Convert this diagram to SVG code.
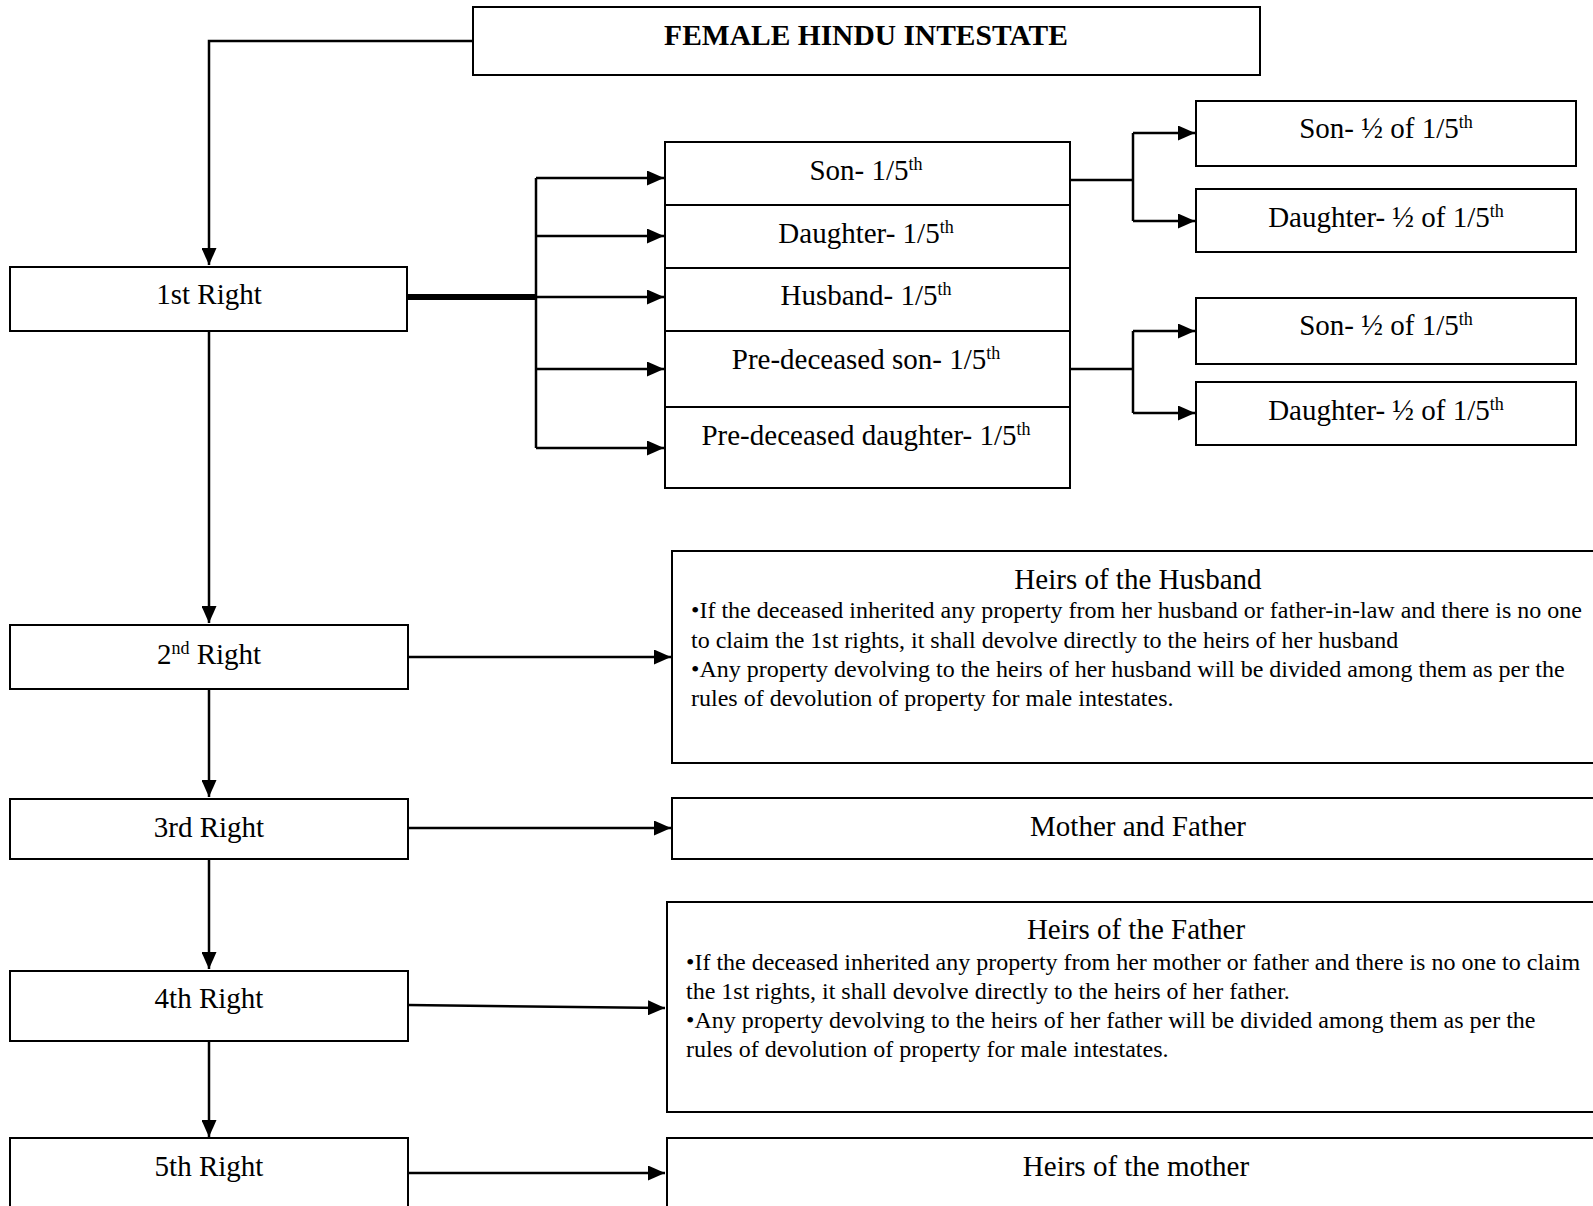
<svg xmlns="http://www.w3.org/2000/svg" width="1593" height="1206" viewBox="0 0 1593 1206">
<defs>
<style>
.box{fill:#fff;stroke:#000;stroke-width:2}
.t{font-family:"Liberation Serif","Times New Roman",serif;font-size:29px;fill:#000;text-anchor:middle}
.b{font-family:"Liberation Serif","Times New Roman",serif;font-size:24px;fill:#000}
.h{font-family:"Liberation Serif","Times New Roman",serif;font-size:29px;fill:#000;text-anchor:middle}
.c{fill:none;stroke:#000;stroke-width:2.5}
.sup{font-size:18px}
</style>
<marker id="ah" markerUnits="userSpaceOnUse" markerWidth="17" markerHeight="15" refX="17" refY="7.5" orient="auto">
<path d="M0,0 L17,7.5 L0,15 Z" fill="#000"/>
</marker>
</defs>
<rect width="1593" height="1206" fill="#fff"/>

<g id="connectors">
<path class="c" d="M473,41 H209 V265" marker-end="url(#ah)"/>
<path d="M407,297 H536" stroke="#000" stroke-width="6" fill="none"/>
<path class="c" d="M536,178 V448"/>
<path class="c" d="M536,178 H664" marker-end="url(#ah)"/>
<path class="c" d="M536,236 H664" marker-end="url(#ah)"/>
<path class="c" d="M536,297 H664" marker-end="url(#ah)"/>
<path class="c" d="M536,369 H664" marker-end="url(#ah)"/>
<path class="c" d="M536,448 H664" marker-end="url(#ah)"/>
<path class="c" d="M1070,180 H1133"/>
<path class="c" d="M1133,133 V221"/>
<path class="c" d="M1133,133 H1195" marker-end="url(#ah)"/>
<path class="c" d="M1133,221 H1195" marker-end="url(#ah)"/>
<path class="c" d="M1070,369 H1133"/>
<path class="c" d="M1133,331 V413"/>
<path class="c" d="M1133,331 H1195" marker-end="url(#ah)"/>
<path class="c" d="M1133,413 H1195" marker-end="url(#ah)"/>
<path class="c" d="M209,331 V623" marker-end="url(#ah)"/>
<path class="c" d="M209,689 V797" marker-end="url(#ah)"/>
<path class="c" d="M209,859 V969" marker-end="url(#ah)"/>
<path class="c" d="M209,1041 V1137" marker-end="url(#ah)"/>
<path class="c" d="M408,657 H671" marker-end="url(#ah)"/>
<path class="c" d="M408,828 H671" marker-end="url(#ah)"/>
<path class="c" d="M408,1005 L665,1008" marker-end="url(#ah)"/>
<path class="c" d="M408,1173 H665" marker-end="url(#ah)"/>
</g>

<g id="title">
<rect class="box" x="473" y="7" width="787" height="68"/>
<text x="866" y="45" class="t" style="font-weight:bold;font-size:29.5px">FEMALE HINDU INTESTATE</text>
</g>

<g id="right1">
<rect class="box" x="10" y="267" width="397" height="64"/>
<text x="209" y="304" class="t">1st Right</text>
</g>

<g id="son">
<rect class="box" x="665" y="142" width="405" height="63"/>
<text x="866" y="180" class="t">Son- 1/5<tspan class="sup" dy="-10">th</tspan></text>
</g>
<g id="daughter">
<rect class="box" x="665" y="205" width="405" height="63"/>
<text x="866" y="243" class="t">Daughter- 1/5<tspan class="sup" dy="-10">th</tspan></text>
</g>
<g id="husband">
<rect class="box" x="665" y="268" width="405" height="63"/>
<text x="866" y="305" class="t">Husband- 1/5<tspan class="sup" dy="-10">th</tspan></text>
</g>
<g id="predeceased-son">
<rect class="box" x="665" y="331" width="405" height="76"/>
<text x="866" y="369" class="t">Pre-deceased son- 1/5<tspan class="sup" dy="-10">th</tspan></text>
</g>
<g id="predeceased-daughter">
<rect class="box" x="665" y="407" width="405" height="81"/>
<text x="866" y="445" class="t">Pre-deceased daughter- 1/5<tspan class="sup" dy="-10">th</tspan></text>
</g>

<g id="gson1">
<rect class="box" x="1196" y="101" width="380" height="65"/>
<text x="1386" y="138" class="t">Son- ½ of 1/5<tspan class="sup" dy="-10">th</tspan></text>
</g>
<g id="gdaughter1">
<rect class="box" x="1196" y="189" width="380" height="63"/>
<text x="1386" y="227" class="t">Daughter- ½ of 1/5<tspan class="sup" dy="-10">th</tspan></text>
</g>
<g id="gson2">
<rect class="box" x="1196" y="298" width="380" height="66"/>
<text x="1386" y="335" class="t">Son- ½ of 1/5<tspan class="sup" dy="-10">th</tspan></text>
</g>
<g id="gdaughter2">
<rect class="box" x="1196" y="382" width="380" height="63"/>
<text x="1386" y="420" class="t">Daughter- ½ of 1/5<tspan class="sup" dy="-10">th</tspan></text>
</g>

<g id="right2">
<rect class="box" x="10" y="625" width="398" height="64"/>
<text x="209" y="664" class="t">2<tspan class="sup" dy="-10">nd</tspan><tspan dy="10"> Right</tspan></text>
</g>
<g id="heirs-husband">
<rect class="box" x="672" y="551" width="940" height="212"/>
<text x="1138" y="589" class="h">Heirs of the Husband</text>
<text class="b" x="691" y="618">•If the deceased inherited any property from her husband or father-in-law and there is no one</text>
<text class="b" x="691" y="648">to claim the 1st rights, it shall devolve directly to the heirs of her husband</text>
<text class="b" x="691" y="677">•Any property devolving to the heirs of her husband will be divided among them as per the</text>
<text class="b" x="691" y="706">rules of devolution of property for male intestates.</text>
</g>

<g id="right3">
<rect class="box" x="10" y="799" width="398" height="60"/>
<text x="209" y="837" class="t">3rd Right</text>
</g>
<g id="mother-father">
<rect class="box" x="672" y="798" width="940" height="61"/>
<text x="1138" y="836" class="h">Mother and Father</text>
</g>

<g id="right4">
<rect class="box" x="10" y="971" width="398" height="70"/>
<text x="209" y="1008" class="t">4th Right</text>
</g>
<g id="heirs-father">
<rect class="box" x="667" y="902" width="945" height="210"/>
<text x="1136" y="939" class="h">Heirs of the Father</text>
<text class="b" x="686" y="970">•If the deceased inherited any property from her mother or father and there is no one to claim</text>
<text class="b" x="686" y="999">the 1st rights, it shall devolve directly to the heirs of her father.</text>
<text class="b" x="686" y="1028">•Any property devolving to the heirs of her father will be divided among them as per the</text>
<text class="b" x="686" y="1057">rules of devolution of property for male intestates.</text>
</g>

<g id="right5">
<rect class="box" x="10" y="1138" width="398" height="90"/>
<text x="209" y="1176" class="t">5th Right</text>
</g>
<g id="heirs-mother">
<rect class="box" x="667" y="1138" width="945" height="90"/>
<text x="1136" y="1176" class="h">Heirs of the mother</text>
</g>
</svg>
